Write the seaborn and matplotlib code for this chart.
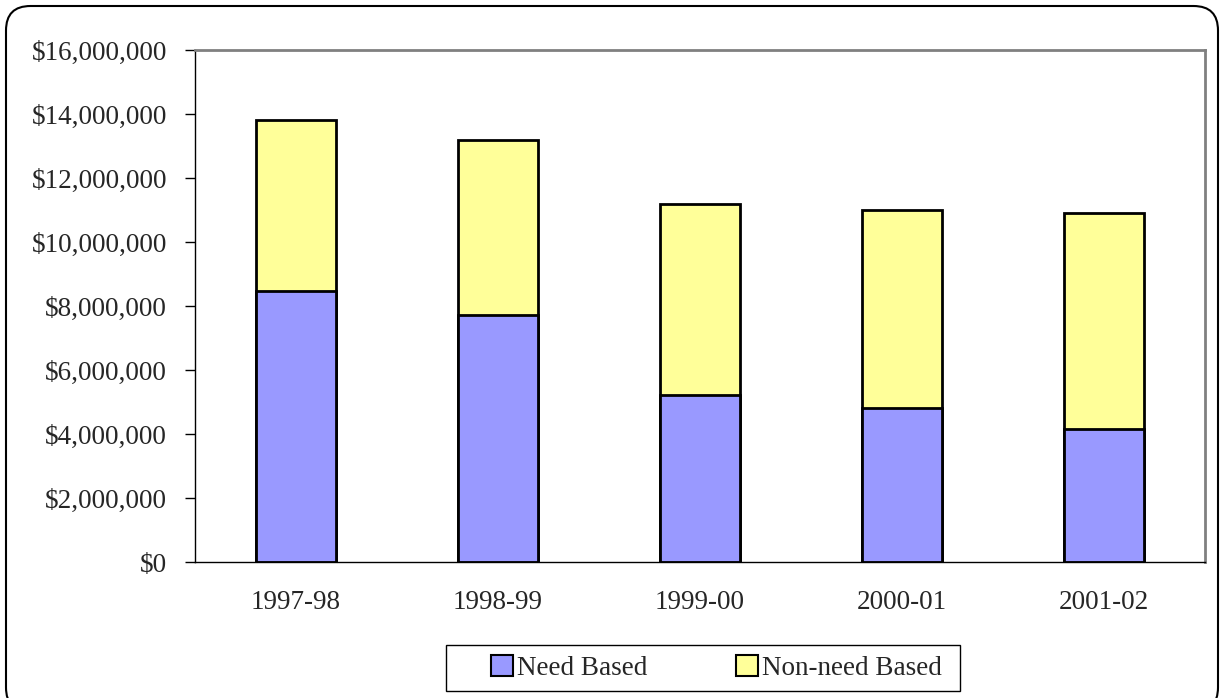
import matplotlib
matplotlib.use("Agg")
import matplotlib.pyplot as plt
from matplotlib.patches import FancyBboxPatch, Patch, Rectangle
from matplotlib.ticker import FuncFormatter, MultipleLocator
import seaborn as sns
import pandas as pd

years = ['1997-98', '1998-99', '1999-00', '2000-01', '2001-02']
need_based = [8470000, 7720000, 5220000, 4800000, 4150000]
non_need_based = [5330000, 5480000, 5980000, 6190000, 6750000]

need_color = '#9999FF'
non_need_color = '#FFFF99'

df = pd.DataFrame({'year': years, 'need': need_based, 'non_need': non_need_based})
df['total'] = df['need'] + df['non_need']

sns.set_style('white')
plt.rcParams['font.family'] = ['Liberation Serif', 'DejaVu Serif']

W, H = 1225, 698
fig = plt.figure(figsize=(W / 100, H / 100), dpi=100)
ax = fig.add_axes([195 / W, 1 - 562 / H, 1010 / W, 512 / H])

# stacked bars: total drawn first, need-based drawn over it
sns.barplot(data=df, x='year', y='total', color=non_need_color, saturation=1,
            width=0.4, edgecolor='black', linewidth=2, ax=ax)
sns.barplot(data=df, x='year', y='need', color=need_color, saturation=1,
            width=0.4, edgecolor='black', linewidth=2, ax=ax)

ax.set_xlim(-0.5, len(years) - 0.5)
ax.set_ylim(0, 16000000)
ax.yaxis.set_major_locator(MultipleLocator(2000000))
ax.yaxis.set_major_formatter(FuncFormatter(lambda v, p: f'${v:,.0f}'))
ax.set_xlabel('')
ax.set_ylabel('')

ax.set_xticks(range(len(years)))
ax.set_xticklabels(years)
ax.set_xticks([i - 0.5 for i in range(len(years) + 1)], minor=True)
ax.tick_params(axis='x', which='major', length=0, pad=20, labelsize=19.5)
ax.tick_params(axis='x', which='minor', length=7, width=1, color='black', direction='out')
ax.tick_params(axis='y', length=7, width=1, color='black', direction='out',
               labelsize=19.5, pad=13, left=True)

for side in ['left', 'bottom']:
    ax.spines[side].set_color('black')
    ax.spines[side].set_linewidth(1)
for side in ['top', 'right']:
    ax.spines[side].set_color('#808080')
    ax.spines[side].set_linewidth(2)

# legend box drawn separately so its padding matches the original
fig.patches.append(Rectangle((446 / W, 1 - 691 / H), 514 / W, 46 / H,
                             transform=fig.transFigure, fill=False,
                             edgecolor='black', linewidth=1))
handles = [Patch(facecolor=need_color, edgecolor='black', linewidth=1.5, label='Need Based'),
           Patch(facecolor=non_need_color, edgecolor='black', linewidth=1.5, label='Non-need Based')]
fig.legend(handles=handles, loc='center left', bbox_to_anchor=(491 / W, 1 - 668 / H),
           ncol=2, frameon=False, fontsize=19.5, handlelength=0.8,
           handleheight=0.8, handletextpad=0.15, columnspacing=3.3,
           borderpad=0, borderaxespad=0)

border = FancyBboxPatch((6 / W, -0.02), 1212 / W, 1 - 6 / H + 0.02,
                        boxstyle='round,pad=0,rounding_size=0.02',
                        transform=fig.transFigure, fill=False, edgecolor='black',
                        linewidth=1.5, mutation_aspect=W / H)
fig.patches.append(border)

fig.savefig('out.png', dpi=100)
